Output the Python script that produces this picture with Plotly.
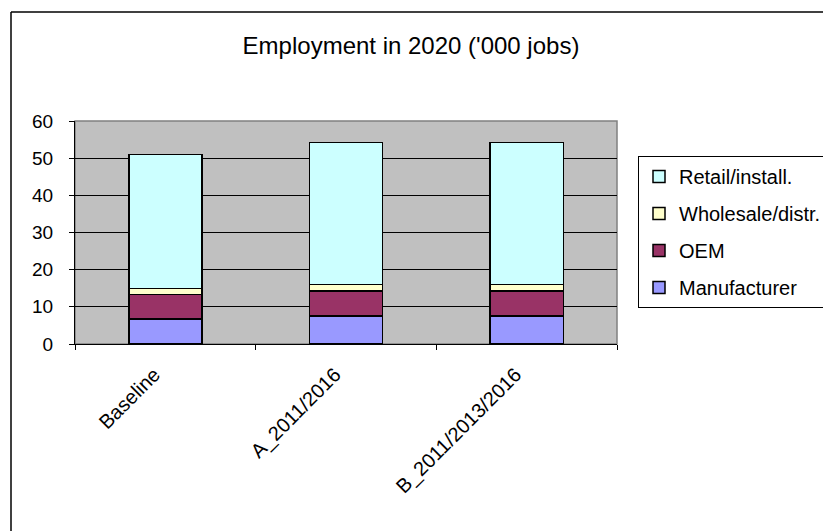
import plotly.graph_objects as go

categories = ["Baseline", "A_2011/2016", "B_2011/2013/2016"]
manufacturer = [6.7, 7.5, 7.5]
oem = [6.6, 6.7, 6.7]
wholesale = [1.7, 1.8, 1.8]
retail = [36.0, 38.2, 38.2]
y_ticks = [0, 10, 20, 30, 40, 50, 60]

series = [
    ("Manufacturer", manufacturer, "#9999FF", 4),
    ("OEM", oem, "#993366", 3),
    ("Wholesale/distr.", wholesale, "#FFFFCC", 2),
    ("Retail/install.", retail, "#CCFFFF", 1),
]

fig = go.Figure()
for name, vals, col, rank in series:
    fig.add_trace(go.Bar(
        x=categories, y=vals, name=name, legendgroup=name, legendrank=rank,
        marker=dict(color=col, line=dict(color="black", width=1.5)),
    ))

W, H = 823, 531
# plot area in page pixels
SX0, SX1, SY0, SY1 = 75, 617, 121, 344
L = SX0
T = SY0
pw = SX1 - SX0
ph = SY1 - SY0
R = W - L - pw
B = H - T - ph


def px_x(sp):
    return (sp - SX0) / pw


def px_y(sp):
    return (SY1 - sp) / ph


fig.update_layout(
    width=W, height=H,
    margin=dict(l=L, r=R, t=T, b=B, autoexpand=False),
    paper_bgcolor="white",
    plot_bgcolor="#C0C0C0",
    barmode="stack",
    bargap=0.595,
    font=dict(family="Liberation Sans, Arial, sans-serif", color="black"),
    title=dict(text="Employment in 2020 ('000 jobs)", x=411 / W,
               xref="container", xanchor="center",
               y=1 - 46 / H, yref="container", yanchor="middle",
               font=dict(size=24, color="black")),
    legend=dict(
        x=638 / W, y=1 - 156 / H, xref="container", yref="container",
        xanchor="left", yanchor="top",
        traceorder="grouped", bordercolor="black", borderwidth=1,
        bgcolor="white", font=dict(size=20), tracegroupgap=8,
    ),
    xaxis=dict(
        showline=True, linecolor="black", linewidth=1,
        ticks="outside", tickson="boundaries", ticklen=5, tickcolor="black",
        tickangle=-45, tickfont=dict(size=20), ticklabelstandoff=10,
        ticklabelshift=-11,
        showgrid=False, automargin=False,
    ),
    yaxis=dict(
        range=[0, 60], tickvals=y_ticks, showline=True, linecolor="black",
        linewidth=1, ticks="outside", ticklen=5, tickcolor="black",
        gridcolor="black", gridwidth=1, tickfont=dict(size=19),
        ticklabelstandoff=12, zeroline=False, automargin=False,
    ),
    shapes=[
        dict(type="rect", xref="paper", yref="paper", x0=0, x1=1, y0=0, y1=1,
             line=dict(color="#808080", width=1.5), layer="below"),
        dict(type="line", xref="paper", yref="paper",
             x0=px_x(11), x1=px_x(11), y0=px_y(12), y1=px_y(560),
             line=dict(color="#404040", width=2), layer="below"),
        dict(type="line", xref="paper", yref="paper",
             x0=px_x(11), x1=px_x(860), y0=px_y(12), y1=px_y(12),
             line=dict(color="black", width=1.5), layer="below"),
    ],
)

fig.write_html(
    "out.html",
    config={"displayModeBar": False},
    post_script="document.body.style.margin='0';document.body.style.overflow='hidden';",
)
